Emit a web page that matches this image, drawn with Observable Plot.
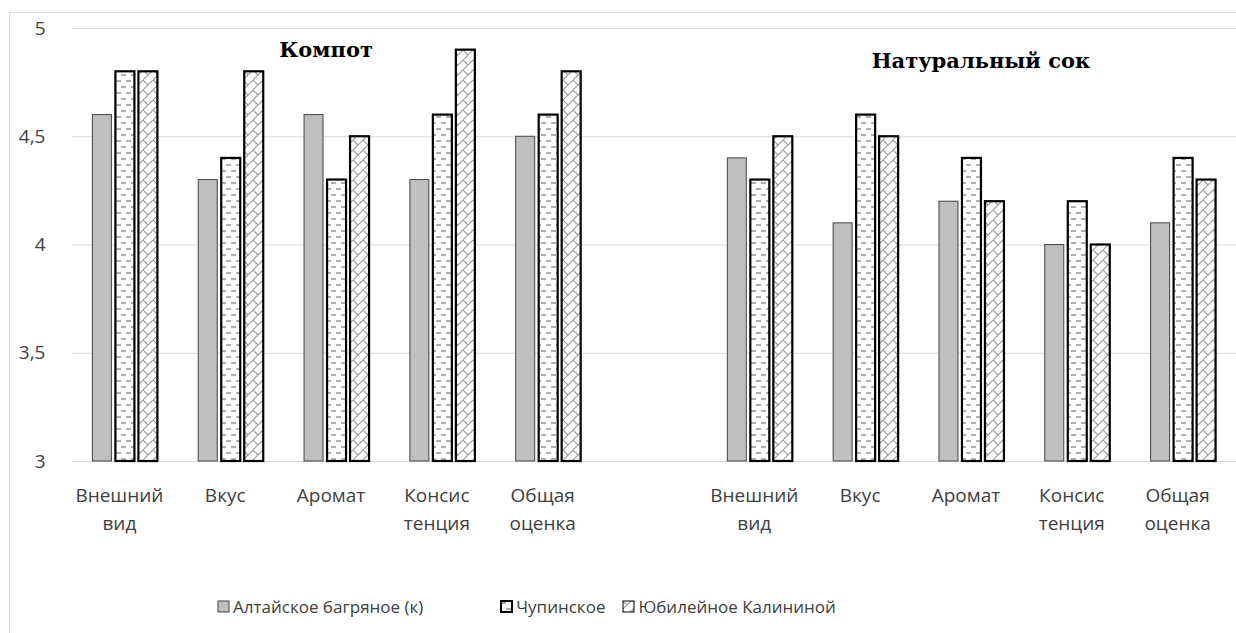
<!DOCTYPE html>
<html><head><meta charset="utf-8">
<script src="https://cdn.jsdelivr.net/npm/d3@7"></script>
<script src="https://cdn.jsdelivr.net/npm/@observablehq/plot@0.6"></script>
<style>
body{margin:0;background:#fff;font-family:"Open Sans",sans-serif;}
#frame{position:absolute;left:9px;top:12px;width:1240px;height:640px;border:1px solid #d9d9d9;box-sizing:border-box;}
#chart{position:absolute;left:0;top:0;}
#legend{position:absolute;left:217px;top:595px;display:flex;align-items:center;font-size:17px;color:#404040;white-space:nowrap;}
.item{display:flex;align-items:center;}
.item svg{margin-right:3px;}
</style></head>
<body>
<div id="frame"></div>
<div id="chart"></div>
<div id="legend"></div>
<script>
const slots = ["c0","c1","c2","c3","c4","gap","s0","s1","s2","s3","s4"];
const slotLabels = ["Внешний\nвид","Вкус","Аромат","Консис\nтенция","Общая\nоценка","","Внешний\nвид","Вкус","Аромат","Консис\nтенция","Общая\nоценка"];
const series = ["Алтайское багряное (к)","Чупинское","Юбилейное Калининой"];
const altai = [4.6,4.3,4.6,4.3,4.5,null,4.4,4.1,4.2,4.0,4.1];
const chup  = [4.8,4.4,4.3,4.6,4.6,null,4.3,4.6,4.4,4.2,4.4];
const yub   = [4.8,4.8,4.5,4.9,4.8,null,4.5,4.5,4.2,4.0,4.3];
const yTicks = [3,3.5,4,4.5,5];
const yTickLabels = ["3","3,5","4","4,5","5"];
const groupTitles = ["Компот","Натуральный сок"];
const groupTitleSlots = ["c2","s2"];
const groupTitleY = [4.9,4.85];

const yMin = 3;
const valuesBySeries = [altai, chup, yub];
const rows = (vals) => slots.map((s,i)=>({slot:s, v:vals[i]})).filter(d=>d.v!=null);
const fills = ["#bfbfbf","url(#patDash)","url(#patBrick)"];
const strokes = ["#444","#000","#000"];
const strokeW = [1,2.2,2.2];
const offsets = [-23,0,23];

const W = 1236, ML = 72;
const step = (W - ML)/slots.length;
const inset = (step - 19)/2;

const barMarks = valuesBySeries.map((vals,k)=>Plot.barY(rows(vals),{
  x:"slot", y1:()=>yMin, y2:"v", fill:fills[k], stroke:strokes[k], strokeWidth:strokeW[k],
  insetLeft:inset, insetRight:inset, dx:offsets[k]
}));

const titleFont = '"DejaVu Serif", serif';
const svg = Plot.plot({
  width: W, height: 560,
  marginLeft: ML, marginRight: 0, marginTop: 28, marginBottom: 99,
  style:{fontFamily:'"Open Sans", sans-serif', fontSize:"19px", color:"#404040", background:"transparent"},
  x:{domain:slots, padding:0, round:false, label:null},
  y:{domain:[3,5], label:null},
  marks:[
    Plot.ruleY(yTicks,{stroke:"#d9d9d9", strokeWidth:1}),
    ...barMarks,
    Plot.text([0],{x:()=>groupTitleSlots[0], y:()=>groupTitleY[0], text:()=>groupTitles[0], dx:-11, fontFamily:titleFont, fontWeight:"bold", fontSize:21, fill:"#000"}),
    Plot.text([0],{x:()=>groupTitleSlots[1], y:()=>groupTitleY[1], text:()=>groupTitles[1], dx:9, fontFamily:titleFont, fontWeight:"bold", fontSize:21, fill:"#000"}),
    Plot.axisX({tickSize:0, tickPadding:20, lineHeight:1.5, fontSize:19, dx:-6, tickFormat:(d)=>slotLabels[slots.indexOf(d)], textAnchor:"middle"}),
    Plot.axisY({ticks:yTicks, tickSize:0, tickPadding:27, fontSize:19, tickFormat:(d)=>yTickLabels[yTicks.indexOf(d)]})
  ]
});
const defs = `
<pattern id="patDash" patternUnits="userSpaceOnUse" width="10" height="12">
  <rect width="10" height="12" fill="#fff"/>
  <line x1="1" y1="3" x2="6" y2="3" stroke="#8c8c8c" stroke-width="1.4"/>
  <line x1="6" y1="9" x2="11" y2="9" stroke="#8c8c8c" stroke-width="1.4"/>
  <line x1="-4" y1="9" x2="1" y2="9" stroke="#8c8c8c" stroke-width="1.4"/>
</pattern>
<pattern id="patBrick" patternUnits="userSpaceOnUse" width="10" height="10">
  <rect width="10" height="10" fill="#fff"/>
  <path d="M0,10 L10,0 M0,0 L5,5" stroke="#9a9a9a" stroke-width="1.1" fill="none"/>
</pattern>`;
d3.select(svg).insert("defs",":first-child").html(defs);
document.getElementById("chart").appendChild(svg);

const legend = document.getElementById("legend");
const legendGaps = [77,0,0];
series.forEach((name,k)=>{
  const it = document.createElement("div"); it.className="item";
  it.style.marginRight = (k===0?77:17)+"px";
  it.innerHTML = `<svg width="13" height="13"><rect x="1" y="1" width="11" height="11" fill="${fills[k]}" stroke="${strokes[k]}" stroke-width="${k===1?2:1}"/></svg><span>${name}</span>`;
  legend.appendChild(it);
});
</script>
</body></html>
